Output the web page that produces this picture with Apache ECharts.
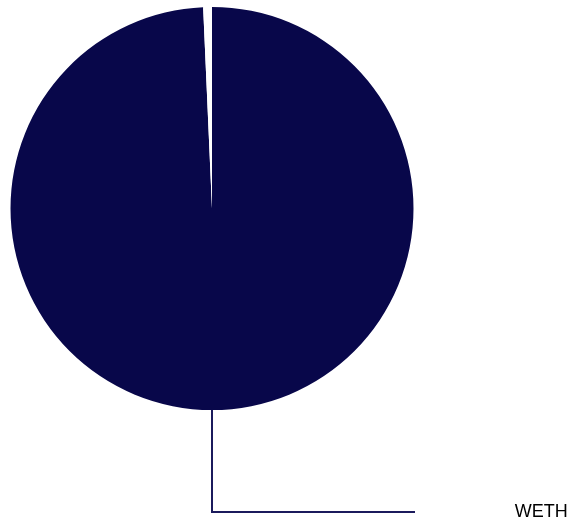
<!DOCTYPE html>
<html>
<head>
<meta charset="utf-8">
<script src="https://cdn.jsdelivr.net/npm/echarts@6/dist/echarts.min.js"></script>
<style>
  html, body { margin: 0; padding: 0; background: #fff; }
  #chart { width: 572px; height: 524px; }
</style>
</head>
<body>
<div id="chart"></div>
<script>
  // data
  var names = ['WETH', 'Other'];
  var values = [99.3, 0.7];
  var colors = ['#08074a', '#ffffff'];

  var pieCenter = [212, 208.5];
  var pieRadius = 201.5;
  var lineLen2 = 203;

  var chart = echarts.init(document.getElementById('chart'));

  var pieData = names.map(function(n, i) {
    var item = { name: n, value: values[i], itemStyle: { color: colors[i] } };
    if (i > 0) {
      item.label = { show: false };
      item.labelLine = { show: false };
    }
    return item;
  });

  chart.setOption({
    animation: false,
    series: [
      {
        type: 'pie',
        center: pieCenter,
        radius: pieRadius,
        startAngle: 90,
        clockwise: true,
        avoidLabelOverlap: false,
        emphasis: { disabled: true },
        label: {
          show: true,
          position: 'outside',
          color: '#000',
          fontSize: 18,
          fontFamily: 'Liberation Sans, Arial, sans-serif',
          padding: [0, 0, 0, 88],
          formatter: '{b}'
        },
        labelLine: {
          show: true,
          length: 102,
          length2: lineLen2,
          lineStyle: { color: '#1b1a5c', width: 2 }
        },
        // keep the leader line straight down from the bottom of the pie
        labelLayout: function(params) {
          var p = params.labelLinePoints;
          if (!p) return {};
          var cx = pieCenter[0];
          var yEnd = p[p.length - 1][1];
          return {
            labelLinePoints: [
              [cx, pieCenter[1] + pieRadius],
              [cx, yEnd],
              [cx + lineLen2, yEnd]
            ]
          };
        },
        data: pieData
      }
    ]
  });
</script>
</body>
</html>
